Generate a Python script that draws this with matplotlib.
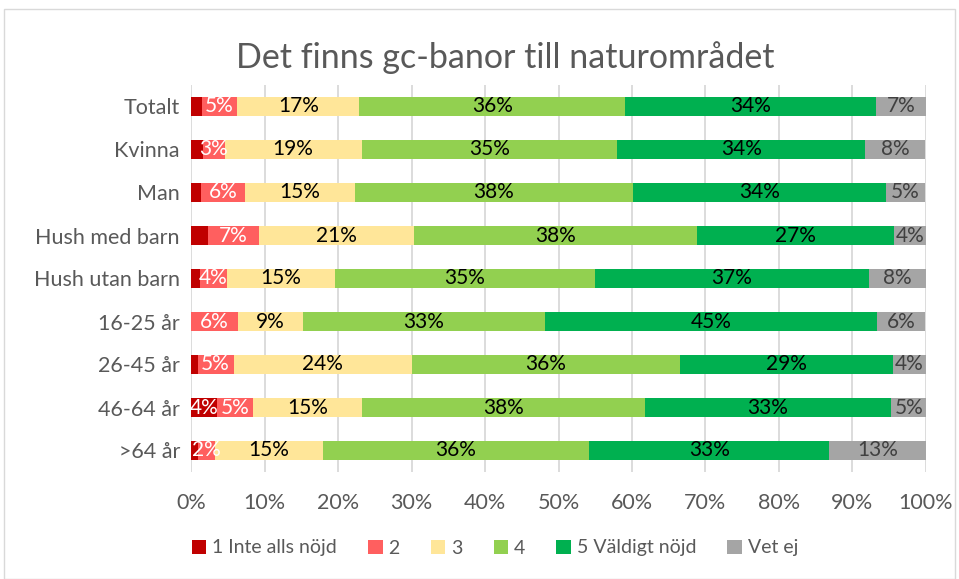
import matplotlib.pyplot as plt
from matplotlib.patches import Rectangle

plt.rcParams['font.family'] = ['Lato', 'DejaVu Sans']

categories = ['Totalt', 'Kvinna', 'Man', 'Hush med barn', 'Hush utan barn',
              '16-25 år', '26-45 år', '46-64 år', '>64 år']
series_names = ['1 Inte alls nöjd', '2', '3', '4', '5 Väldigt nöjd', 'Vet ej']

s1 = [1.5, 1.6, 1.3, 2.3, 1.2, 0.0, 0.9, 3.6, 0.9]
s2 = [4.8, 3.0, 6.1, 7.0, 3.7, 6.4, 4.9, 4.9, 2.4]
s3 = [16.6, 18.6, 14.9, 21.1, 14.7, 8.9, 24.2, 14.8, 14.6]
s4 = [36.2, 34.8, 37.8, 38.5, 35.3, 32.8, 36.5, 38.5, 36.3]
s5 = [34.1, 33.7, 34.4, 26.7, 37.3, 45.3, 29.0, 33.4, 32.6]
s6 = [6.8, 8.2, 5.4, 4.4, 7.8, 6.4, 4.5, 4.9, 13.2]

colors = ['#c00000', '#ff5f5f', '#ffe699', '#92d050', '#00b050', '#a5a5a5']
label_colors = ['white', 'white', 'black', 'black', 'black', '#404040']
min_label = [3, 2, 2, 2, 2, 2]

fig = plt.figure(figsize=(9.59, 5.79), dpi=100)
ax = fig.add_axes([191 / 959, 1 - 472 / 579, 735 / 959, 387 / 579])

series = [s1, s2, s3, s4, s5, s6]
ypos = list(range(len(categories)))
left = [0.0] * len(categories)
for i, vals in enumerate(series):
    ax.barh(ypos, vals, left=left, height=0.42, color=colors[i],
            label=series_names[i], zorder=3)
    for j, v in enumerate(vals):
        if round(v) >= min_label[i]:
            ax.text(left[j] + v / 2, ypos[j], f'{round(v)}%', ha='center',
                    va='center', fontsize=15, color=label_colors[i], zorder=4)
    left = [a + b for a, b in zip(left, vals)]

ax.set_xlim(0, 100)
ax.set_ylim(len(categories) - 0.5, -0.5)
ax.set_xticks(range(0, 101, 10))
ax.set_xticklabels([f'{t}%' for t in range(0, 101, 10)])
ax.set_yticks(ypos)
ax.set_yticklabels(categories)
ax.tick_params(axis='both', length=0, labelsize=15.5, colors='#595959')
ax.tick_params(axis='x', pad=15)
ax.tick_params(axis='y', pad=8)
ax.grid(axis='x', color='#d9d9d9', linewidth=1.3, zorder=0)
for sp in ax.spines.values():
    sp.set_visible(False)

fig.text(505 / 959, 1 - 58 / 579, 'Det finns gc-banor till naturområdet',
         ha='center', va='center', fontsize=24.5, color='#595959')

leg = fig.legend(loc='center', bbox_to_anchor=(495 / 959, 1 - 548 / 579), ncol=6,
                 frameon=False, fontsize=14, handlelength=0.75, handleheight=0.75,
                 handletextpad=0.3, columnspacing=1.6)
for t in leg.get_texts():
    t.set_color('#595959')

fig.patches.append(Rectangle((4 / 959, 0), 951 / 959, 1 - 9 / 579,
                             transform=fig.transFigure, fill=False,
                             edgecolor='#d9d9d9', linewidth=1))

fig.savefig('out.png', dpi=100)
